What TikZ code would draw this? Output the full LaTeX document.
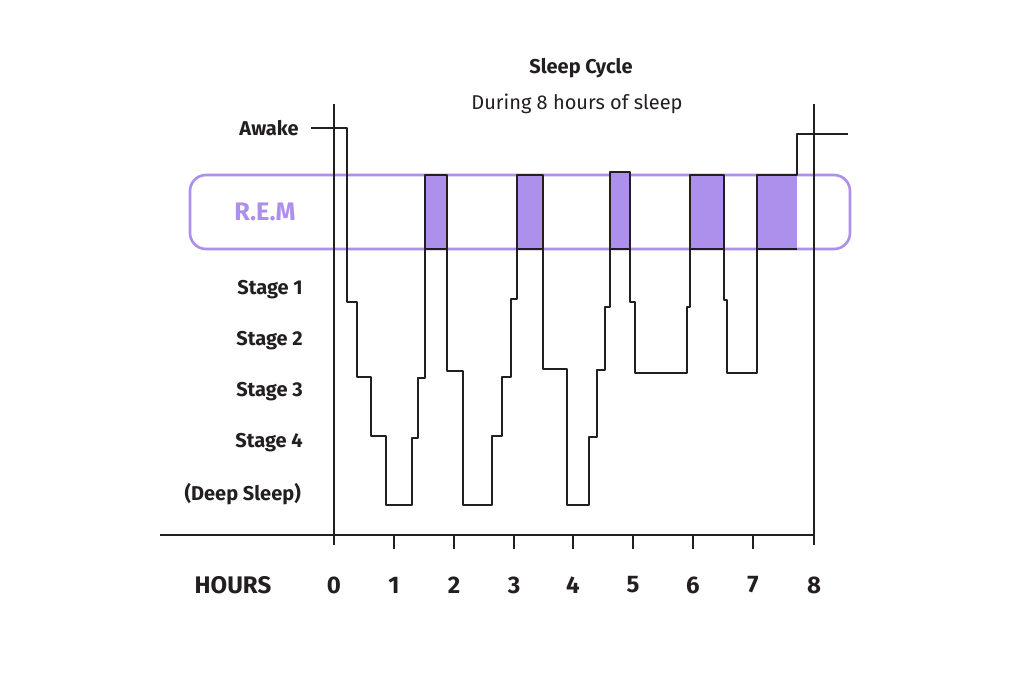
\documentclass[tikz,border=0pt]{standalone}
\usepackage{fontspec}
\setmainfont{Fira Sans}
\definecolor{remc}{HTML}{AD8FEC}
\definecolor{ink}{HTML}{231F20}
\begin{document}
\begin{tikzpicture}[x=0.75pt,y=-0.75pt,
  lab/.style={anchor=east,font=\fontsize{15}{17}\selectfont\bfseries,text=ink,inner sep=0},
  hr/.style={font=\fontsize{18}{20}\selectfont\bfseries,text=ink,inner sep=0},
  ln/.style={ink,line width=1.6pt},
  remfill/.style={fill=remc,draw=none}]
\useasboundingbox (0,0) rectangle (1024,683);
% REM fills
\fill[remc] (425,175) rectangle (447,249);
\fill[remc] (517,175) rectangle (543,249);
\fill[remc] (610,172) rectangle (630,249);
\fill[remc] (690,175) rectangle (724,249);
\fill[remc] (757,175) rectangle (797,249);
\node[draw=remc,line width=2pt,rounded corners=12pt,minimum width=660*0.75pt,minimum height=74*0.75pt] (rem) at (520,212) {};
\node[font=\fontsize{19}{21}\selectfont\bfseries,text=remc] (remt) at (265,212) {R.E.M};
% axes
\coordinate (ytop) at (334,104); \coordinate (ybot) at (334,545);
\draw[ln] (ytop) -- (ybot);
\coordinate (rtop) at (814,104); \coordinate (rbot) at (814,545);
\draw[ln] (rtop) -- (rbot);
\coordinate (xl) at (160,535); \coordinate (xr) at (814,535);
\draw[ln] (xl) -- (xr);
\foreach \i/\x in {1/394,2/454,3/514,4/573,5/633,6/693,7/753}{
  \draw[ln] (\x,535) -- (\x,549);
  \node[hr] (h\i) at (\x,585) {\i};}
\node[hr] (h0) at (334,585) {0};
\node[hr] (h8) at (814,585) {8};
\node[hr] (hours) at (233,585) {HOURS};
% labels
\node[lab] (aw) at (299,128) {Awake};
\node[lab] (s1) at (303,290) {Stage 1};
\node[lab] (s2) at (303,341) {Stage 2};
\node[lab] (s3) at (303,392) {Stage 3};
\node[lab] (s4) at (303,443) {Stage 4};
\node[lab] (ds) at (301,494) {(Deep Sleep)};
\node[font=\fontsize{15}{17}\selectfont\bfseries,text=ink] (title) at (581,68) {Sleep Cycle};
\node[font=\fontsize{15}{17}\selectfont,text=ink] (sub) at (577,104) {During 8 hours of sleep};
% hypnogram
\draw[ln,line join=round] (311,128) -- (347,128) |- (357,302) |- (371,377) |- (386,436) |- (412,505) |- (418,438) |- (425,378)
 |- (447,175) |- (463,371) |- (492,505) |- (502,436) |- (511,377) |- (517,299)
 |- (543,175) |- (567,369) |- (589,505) |- (597,437) |- (605,370) |- (610,307)
 |- (630,172) |- (635,302) |- (687,373) |- (690,307)
 |- (724,175) |- (727,300) |- (757,373)
 |- (797,175) |- (848,134);
% REM bottom lines
\foreach \a/\b in {425/447,517/543,610/630,690/724,757/797}{\draw[ln] (\a,249) -- (\b,249);}
\end{tikzpicture}
\end{document}
